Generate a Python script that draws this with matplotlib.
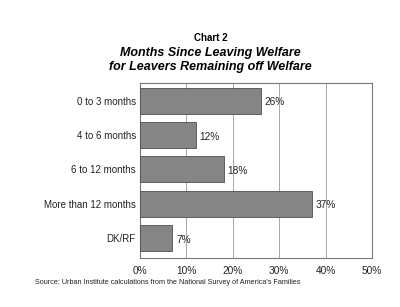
import matplotlib.pyplot as plt
import numpy as np

plt.rcParams["font.family"] = ["Liberation Sans", "DejaVu Sans"]

# Data
categories = ["0 to 3 months", "4 to 6 months", "6 to 12 months",
              "More than 12 months", "DK/RF"]
percents = [26, 12, 18, 37, 7]
tick_values = [0, 10, 20, 30, 40, 50]

fig = plt.figure(figsize=(4.0, 3.07), dpi=100)
ax = fig.add_axes([0.35, 0.16, 0.58, 0.57])

y = np.arange(len(categories))
ax.barh(y, percents, height=0.75, color="#858585", edgecolor="#505050",
        linewidth=0.6, zorder=3)
for yi, v in zip(y, percents):
    ax.text(v + 0.8, yi + 0.05, f"{v}%", va="center", ha="left",
            fontsize=7.3, color="#222222")

ax.set_xlim(0, 50)
ax.set_ylim(4.58, -0.52)
ax.set_yticks(y)
ax.set_yticklabels(categories, fontsize=7, color="#222222")
ax.set_xticks(tick_values)
ax.set_xticklabels([f"{t}%" for t in tick_values], fontsize=7.3, color="#222222")
ax.tick_params(axis="y", length=0, pad=3)
ax.tick_params(axis="x", length=0, pad=6)
ax.grid(axis="x", color="#999999", linewidth=0.6, zorder=0)
for s in ax.spines.values():
    s.set_color("#777777")
    s.set_linewidth(0.8)

fig.text(0.527, 0.865, "Chart 2", ha="center", fontsize=7, fontweight="bold")
fig.text(0.525, 0.817, "Months Since Leaving Welfare", ha="center",
         fontsize=9, fontweight="bold", style="italic")
fig.text(0.525, 0.771, "for Leavers Remaining off Welfare", ha="center",
         fontsize=9, fontweight="bold", style="italic")
fig.text(0.087, 0.074, "Source: Urban Institute calculations from the National Survey of America's Families",
         ha="left", fontsize=5.2, color="#222222")

fig.savefig("out.png", dpi=100)
